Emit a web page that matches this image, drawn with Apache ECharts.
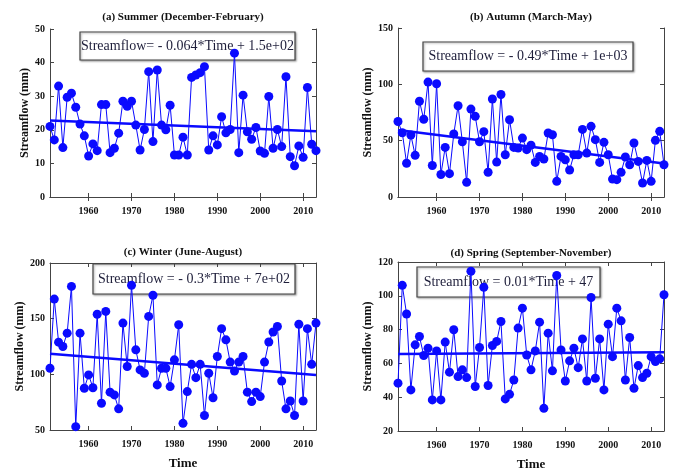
<!DOCTYPE html>
<html>
<head>
<meta charset="utf-8">
<script src="https://cdn.jsdelivr.net/npm/echarts@6/dist/echarts.min.js"></script>
<style>
html,body{margin:0;padding:0;background:#fff;}
#chart{width:677px;height:473px;}
</style>
</head>
<body>
<div id="chart"></div>
<script>
const years = [1951,1952,1953,1954,1955,1956,1957,1958,1959,1960,
  1961,1962,1963,1964,1965,1966,1967,1968,1969,1970,
  1971,1972,1973,1974,1975,1976,1977,1978,1979,1980,
  1981,1982,1983,1984,1985,1986,1987,1988,1989,1990,
  1991,1992,1993,1994,1995,1996,1997,1998,1999,2000,
  2001,2002,2003,2004,2005,2006,2007,2008,2009,2010,
  2011,2012,2013];

const summer = [21,17,33,14.7,29.7,30.9,26.7,21.7,18.2,12.2,
  15.8,13.8,27.5,27.5,13.2,14.5,19,28.5,27,28.5,
  21.4,14,20.1,37.3,16.5,37.8,21.4,20,27.3,12.5,
  12.5,17.8,12.5,35.6,36.3,37,38.8,14,18.2,15.5,
  23.9,19.1,20.1,42.8,13.2,30.3,19.4,17.2,20.7,13.7,
  13,29.9,14.5,20.1,15,35.8,12,9.3,15.2,11.8,
  32.6,15.7,13.8];

const autumn = [67,57,30,55,37,85,69,102,28,100.5,
  20,44,20.7,56,81,49,13,78,71.6,49,
  58,22,87,31,91,37.5,68.6,44,43.5,52.3,
  42,46,30.7,36,33.7,56.8,55.3,13.9,36,33,
  24,37.5,37.5,60,39,62.7,50.9,30.7,48.5,37.5,
  15.9,15.4,21.9,35.5,28.6,47.9,31.6,12.4,32.5,13.9,
  50.3,58.3,28.6];

const winter = [105.5,167.6,128.9,125,137,179,53,137,87.5,99.5,
  88,154,74,156.5,84,81.5,69,146,107,180,
  122,104,101,152,171,90.5,105.5,105.5,89,113,
  144.5,56,84.5,109,97,109,63,101,79,116,
  141,131,111,103,111,116,84,75.5,84,80,
  111,129,138,143,94,69,76,63,145,76,
  141,109,146];

const spring = [48.3,106.2,89.2,44.3,71,75.9,64.7,69,38.4,67.4,
  38.4,72.6,54.8,79.9,52.2,56.2,51.6,114.5,46.3,69.4,
  105,46.9,70.6,73,84.8,39,41.7,50.2,80.9,92.7,
  65,56.2,67.4,84.4,33.4,77.9,55.6,112,68,49.6,
  61.5,69,57.5,74.5,49.6,99,51.2,74.5,44.3,83.2,
  64,92.7,85.2,50.2,75.3,45.3,58.7,51.6,54.2,64,
  61.1,62.7,100.6];

const trendYears = [1951, 2013];
const summerTrend = [22.8, 19.6];
const autumnTrend = [59.5, 29.8];
const winterTrend = [118.4, 99.5];
const springTrend = [65.6, 66.6];

const xTicks = [1960,1970,1980,1990,2000,2010];
const yTicksA = [0,10,20,30,40,50];
const yTicksB = [0,50,100,150];
const yTicksC = [50,100,150,200];
const yTicksD = [20,40,60,80,100,120];

const titles = ['(a) Summer (December-February)','(b) Autumn (March-May)','(c) Winter (June-August)','(d) Spring (September-November)'];
const equations = ['Streamflow= - 0.064*Time + 1.5e+02','Streamflow = - 0.49*Time + 1e+03','Streamflow = - 0.3*Time + 7e+02','Streamflow = 0.01*Time + 47'];
const yName = 'Streamflow (mm)';
const xName = 'Time';

const FONT = "'Liberation Serif','Times New Roman',serif";
const BLUE = '#0a0aff';

const panels = [
  {vals: summer, trend: summerTrend, ticks: yTicksA, grid:{left:50, top:29, width:266, height:168}, nameGap:19, showX:false,
   box:{x:80,y:32,w:215,h:28}, title:{x:183,y:17}},
  {vals: autumn, trend: autumnTrend, ticks: yTicksB, grid:{left:398, top:28, width:266, height:169}, nameGap:22, showX:false,
   box:{x:423,y:42,w:210,h:29}, title:{x:531,y:17}},
  {vals: winter, trend: winterTrend, ticks: yTicksC, grid:{left:50, top:263, width:266, height:167}, nameGap:21, showX:true,
   box:{x:93,y:264,w:202,h:30}, title:{x:183,y:252}},
  {vals: spring, trend: springTrend, ticks: yTicksD, grid:{left:398, top:262, width:266, height:169}, nameGap:22, showX:true,
   box:{x:417,y:267,w:183,h:30}, title:{x:531,y:253}}
];

const grids = [], xAxes = [], yAxes = [], series = [], graphics = [];
const axisLineStyle = {color:'#444', width:1};

panels.forEach((p, i) => {
  grids.push(Object.assign({containLabel:false}, p.grid));
  const ymin = p.ticks[0], ymax = p.ticks[p.ticks.length-1], yint = p.ticks[1]-p.ticks[0];
  xAxes.push({
    type:'value', gridIndex:i, position:'bottom', min:trendYears[0], max:trendYears[1],
    axisLine:{show:true, lineStyle:axisLineStyle},
    axisTick:{show:true, inside:true, length:4, customValues:xTicks, lineStyle:axisLineStyle},
    axisLabel:{show:true, customValues:xTicks, margin:9, fontFamily:FONT, fontWeight:'bold', fontSize:10, color:'#111',
      formatter: v => String(v)},
    splitLine:{show:false},
    name: p.showX ? xName : '', nameLocation:'middle', nameGap:27,
    nameTextStyle:{fontFamily:FONT, fontWeight:'bold', fontSize:13, color:'#111'}
  });
  xAxes.push({
    type:'value', gridIndex:i, position:'top', min:trendYears[0], max:trendYears[1],
    axisLine:{show:true, lineStyle:axisLineStyle},
    axisTick:{show:true, inside:true, length:4, customValues:xTicks, lineStyle:axisLineStyle},
    axisLabel:{show:false}, splitLine:{show:false}
  });
  yAxes.push({
    type:'value', gridIndex:i, position:'left', min:ymin, max:ymax, interval:yint,
    axisLine:{show:true, lineStyle:axisLineStyle},
    axisTick:{show:true, inside:true, length:4, lineStyle:axisLineStyle},
    axisLabel:{show:true, margin:5, fontFamily:FONT, fontWeight:'bold', fontSize:10, color:'#111'},
    splitLine:{show:false},
    name:yName, nameLocation:'middle', nameGap:p.nameGap,
    nameTextStyle:{fontFamily:FONT, fontWeight:'bold', fontSize:12, color:'#111'}
  });
  yAxes.push({
    type:'value', gridIndex:i, position:'right', min:ymin, max:ymax, interval:yint,
    axisLine:{show:true, lineStyle:axisLineStyle},
    axisTick:{show:true, inside:true, length:4, lineStyle:axisLineStyle},
    axisLabel:{show:false}, splitLine:{show:false}
  });
  series.push({
    type:'line', xAxisIndex:2*i, yAxisIndex:2*i,
    data: years.map((y, k) => [y, p.vals[k]]),
    symbol:'circle', symbolSize:9, showSymbol:true,
    lineStyle:{color:BLUE, width:1},
    itemStyle:{color:BLUE},
    animation:false, z:5
  });
  series.push({
    type:'line', xAxisIndex:2*i, yAxisIndex:2*i,
    data: trendYears.map((y, k) => [y, p.trend[k]]),
    symbol:'none', lineStyle:{color:BLUE, width:2.5},
    animation:false, z:6
  });
  graphics.push({
    type:'text', x:p.title.x, y:p.title.y,
    style:{text:titles[i], font:"bold 11px " + FONT, fill:'#111', align:'center', verticalAlign:'middle'}, z:1
  });
  graphics.push({
    type:'rect', x:p.box.x, y:p.box.y, shape:{x:0, y:0, width:p.box.w, height:p.box.h},
    style:{fill:'#fff', stroke:'#444', lineWidth:1.2, shadowBlur:2, shadowColor:'rgba(0,0,0,0.35)', shadowOffsetX:1, shadowOffsetY:1},
    z:0
  });
  graphics.push({
    type:'text', x:p.box.x + p.box.w/2, y:p.box.y + p.box.h/2,
    style:{text:equations[i], font:"14px " + FONT, fill:'#1e1e3a', align:'center', verticalAlign:'middle'},
    z:1
  });
});

const chart = echarts.init(document.getElementById('chart'), null, {renderer:'canvas'});
chart.setOption({
  backgroundColor:'#fff',
  animation:false,
  grid:grids, xAxis:xAxes, yAxis:yAxes, series:series,
  graphic:{z:0, elements:graphics}
});
</script>
</body>
</html>
